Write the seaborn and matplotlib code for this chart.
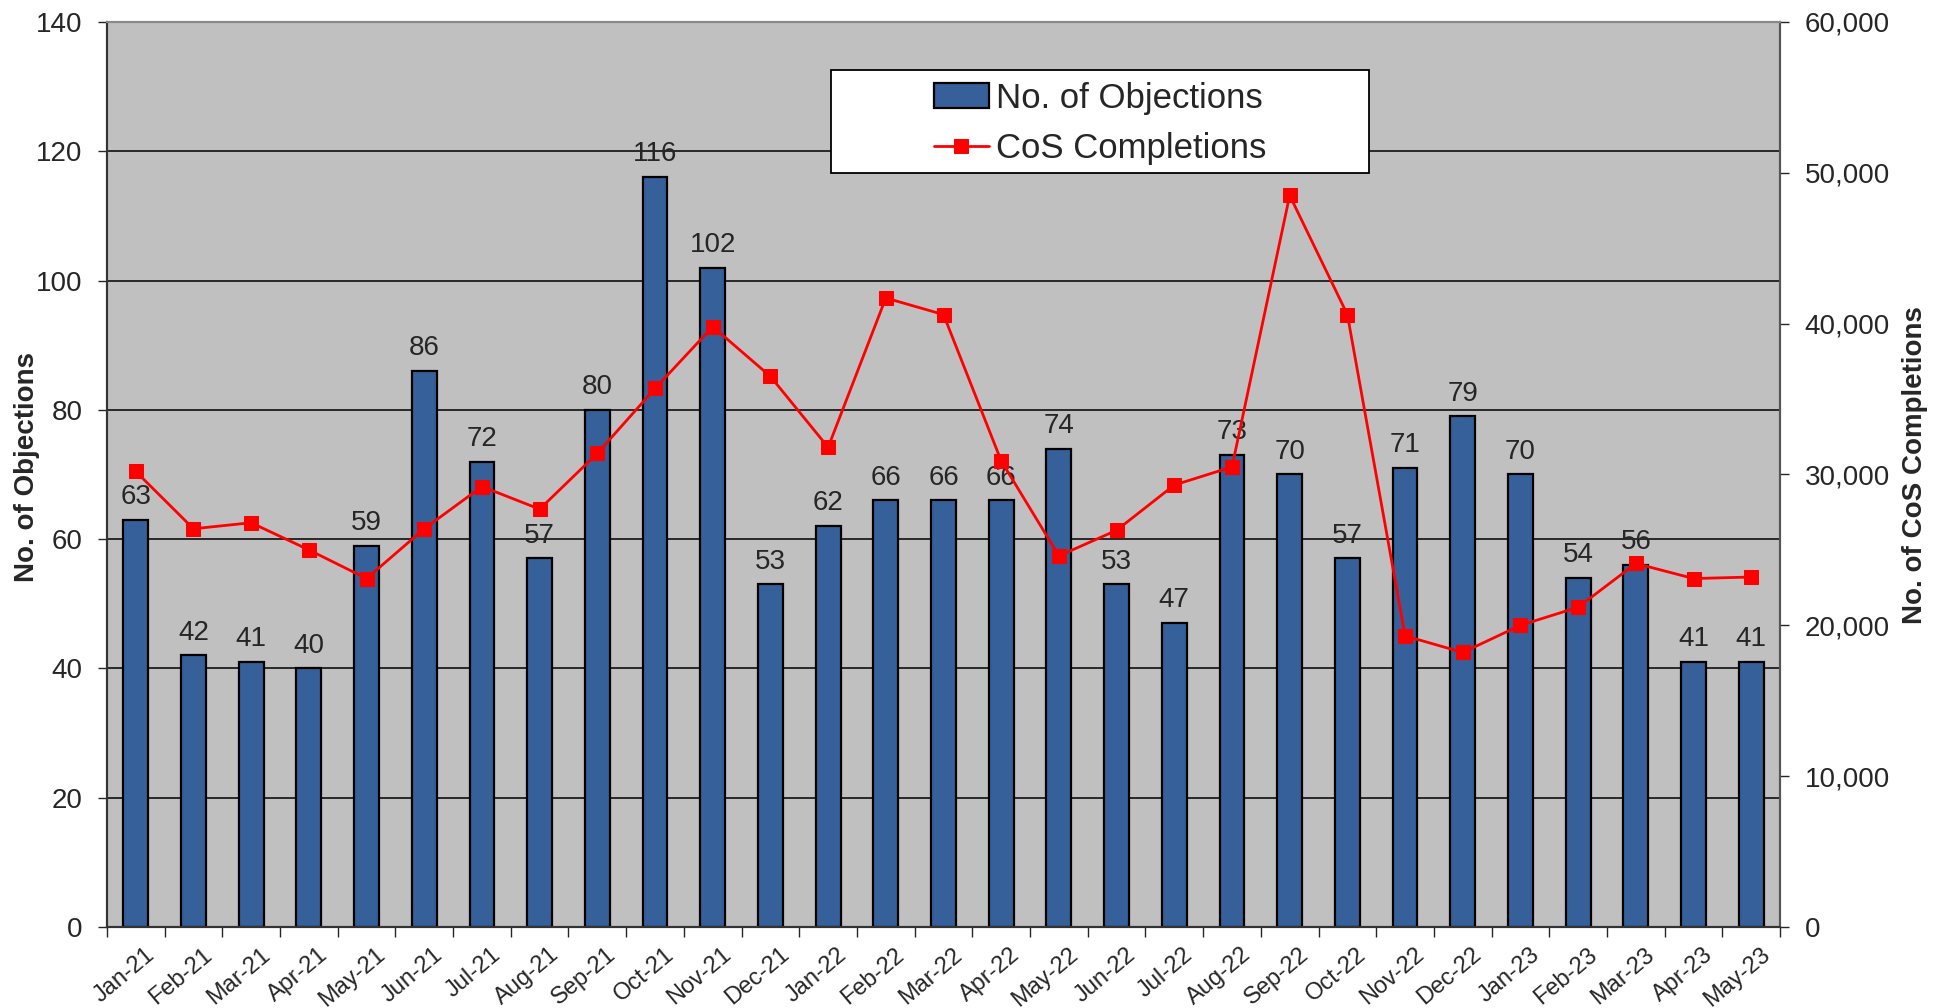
import numpy as np
import pandas as pd
import seaborn as sns
import matplotlib.pyplot as plt
import matplotlib.transforms as mtransforms
from matplotlib.patches import Rectangle
from matplotlib.ticker import FuncFormatter, MultipleLocator

months = ["Jan-21", "Feb-21", "Mar-21", "Apr-21", "May-21", "Jun-21", "Jul-21",
          "Aug-21", "Sep-21", "Oct-21", "Nov-21", "Dec-21", "Jan-22", "Feb-22",
          "Mar-22", "Apr-22", "May-22", "Jun-22", "Jul-22", "Aug-22", "Sep-22",
          "Oct-22", "Nov-22", "Dec-22", "Jan-23", "Feb-23", "Mar-23", "Apr-23",
          "May-23"]
objections = [63, 42, 41, 40, 59, 86, 72, 57, 80, 116, 102, 53, 62, 66, 66, 66,
              74, 53, 47, 73, 70, 57, 71, 79, 70, 54, 56, 41, 41]
cos_completions = [30200, 26400, 26800, 25000, 23100, 26400, 29200, 27700, 31400,
                   35700, 39800, 36500, 31800, 41700, 40600, 30900, 24600, 26300,
                   29300, 30500, 48500, 40600, 19300, 18200, 20000, 21200, 24100,
                   23100, 23200]

df = pd.DataFrame({"month": months, "objections": objections,
                   "cos": cos_completions, "pos": np.arange(len(months))})

sns.set_style("white")
plt.rcParams["font.family"] = ["Liberation Sans", "DejaVu Sans"]

fig = plt.figure(figsize=(19.37, 10.08), dpi=100)
ax = fig.add_axes([0.0552, 0.0804, 0.8638, 0.8978])

sns.barplot(data=df, x="month", y="objections", color="#36609A",
            saturation=1, width=0.43, edgecolor="black", linewidth=1.6,
            ax=ax, zorder=3, label="No. of Objections")
if ax.get_legend() is not None:
    ax.get_legend().remove()
ax.bar_label(ax.containers[0], fontsize=20, padding=7, zorder=4)

ax.set_facecolor("#C0C0C0")
ax.set_ylim(0, 140)
ax.set_xlim(-0.5, len(months) - 0.5)
ax.yaxis.set_major_locator(MultipleLocator(20))
ax.grid(axis="y", color="black", linewidth=1.1, zorder=0)
ax.set_axisbelow(True)
ax.set_xlabel("")
ax.set_ylabel("No. of Objections", fontsize=20, fontweight="bold")
ax.yaxis.set_label_coords(-0.040, 0.508)
ax.tick_params(axis="y", labelsize=20, length=6.5, width=1, pad=11,
               direction="out", left=True)
ax.tick_params(axis="x", which="major", labelsize=17, length=0, rotation=40, pad=12)
shift = mtransforms.ScaledTranslation(0.09, 0, fig.dpi_scale_trans)
for lbl in ax.get_xticklabels():
    lbl.set_ha("right")
    lbl.set_rotation_mode("anchor")
    lbl.set_transform(lbl.get_transform() + shift)
ax.set_xticks(np.arange(len(months) + 1) - 0.5, minor=True)
ax.tick_params(axis="x", which="minor", length=7, width=1, direction="out", bottom=True)

ax2 = ax.twinx()
sns.lineplot(data=df, x="pos", y="cos", color="#FF0000", linewidth=2,
             marker="s", markersize=10, markeredgecolor="#FF0000",
             ax=ax2, label="CoS Completions", legend=False)
ax2.set_ylim(0, 60000)
ax2.yaxis.set_major_locator(MultipleLocator(10000))
ax2.yaxis.set_major_formatter(FuncFormatter(lambda v, p: f"{v:,.0f}"))
ax2.tick_params(axis="y", labelsize=20, length=6.5, width=1, pad=11,
                direction="out", right=True)
ax2.set_ylabel("No. of CoS Completions", fontsize=20, fontweight="bold")
ax2.yaxis.set_label_coords(1.073, 0.51)
ax2.set_xlabel("")
ax2.set_xlim(-0.5, len(months) - 0.5)

for a in (ax, ax2):
    a.spines["left"].set_color("#333333")
    a.spines["bottom"].set_color("#333333")
    a.spines["right"].set_color("#555555")
    a.spines["top"].set_color("#888888")
    for s in a.spines.values():
        s.set_linewidth(1.5)

# legend box (white, fixed size like the original)
ax2.add_patch(Rectangle((0.433, 0.833), 0.321, 0.114, transform=ax2.transAxes,
                        facecolor="white", edgecolor="black", linewidth=1.3,
                        zorder=5))
h1, l1 = ax.get_legend_handles_labels()
h2, l2 = ax2.get_legend_handles_labels()
leg = ax2.legend(h1 + h2, l1 + l2, loc="center", bbox_to_anchor=(0.5935, 0.888),
                 fontsize=25, frameon=False, handlelength=1.6,
                 handletextpad=0.2, labelspacing=0.5, borderpad=0)
leg.set_zorder(6)

fig.savefig("out.png", dpi=100)
